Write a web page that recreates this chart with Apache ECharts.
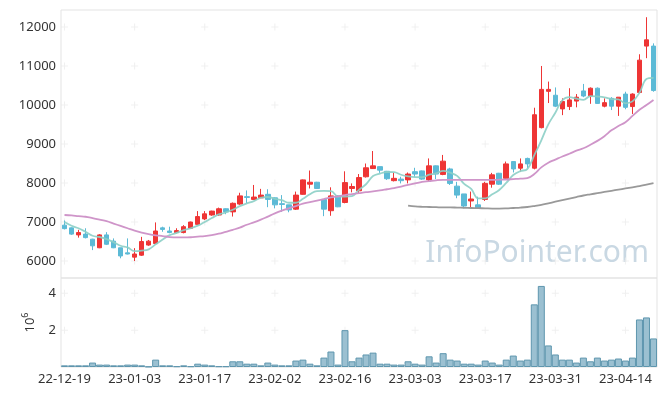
<!DOCTYPE html>
<html><head><meta charset="utf-8">
<script src="https://cdn.jsdelivr.net/npm/echarts@6/dist/echarts.min.js"></script>
<style>html,body{margin:0;padding:0;background:#fff}#c{width:665px;height:396px}</style>
</head><body><div id="c"></div>
<script>
const dates = ['22-12-19','22-12-20','22-12-21','22-12-22','22-12-23','22-12-26','22-12-27','22-12-28','22-12-29','23-01-02',
'23-01-03','23-01-04','23-01-05','23-01-06','23-01-09','23-01-10','23-01-11','23-01-12','23-01-13','23-01-16',
'23-01-17','23-01-18','23-01-19','23-01-20','23-01-25','23-01-26','23-01-27','23-01-30','23-01-31','23-02-01',
'23-02-02','23-02-03','23-02-06','23-02-07','23-02-08','23-02-09','23-02-10','23-02-13','23-02-14','23-02-15',
'23-02-16','23-02-17','23-02-20','23-02-21','23-02-22','23-02-23','23-02-24','23-02-27','23-02-28','23-03-02',
'23-03-03','23-03-06','23-03-07','23-03-08','23-03-09','23-03-10','23-03-13','23-03-14','23-03-15','23-03-16',
'23-03-17','23-03-20','23-03-21','23-03-22','23-03-23','23-03-24','23-03-27','23-03-28','23-03-29','23-03-30',
'23-03-31','23-04-03','23-04-04','23-04-05','23-04-06','23-04-07','23-04-10','23-04-11','23-04-12','23-04-13',
'23-04-14','23-04-17','23-04-18','23-04-19','23-04-20'];

const opens = [6920,6850,6670,6690,6560,6340,6670,6510,6340,6210,
6100,6150,6410,6450,6850,6770,6730,6730,6840,6940,
7080,7180,7180,7340,7260,7460,7650,7580,7620,7710,
7620,7470,7440,7330,7710,7970,8020,7580,7290,7670,
7500,7860,7800,8160,8370,8420,8300,8060,8100,8080,
8290,8310,8080,8440,8220,8360,7920,7720,7540,7440,
7580,7970,8250,8120,8550,8380,8630,8380,9420,10350,
10250,9900,9960,10100,10360,10230,10430,9970,10170,9970,
10280,9960,10320,11510,11510];
const closes = [6830,6690,6730,6600,6390,6670,6430,6340,6130,6180,
6180,6500,6510,6770,6810,6730,6780,6880,7000,7140,
7210,7280,7340,7260,7480,7670,7630,7640,7690,7580,
7440,7450,7310,7690,8080,8020,7860,7330,7670,7390,
8010,7910,8140,8390,8440,8330,8110,8120,8060,8230,
8230,8100,8440,8230,8560,7990,7690,7410,7590,7350,
7990,8210,7970,8490,8360,8490,8490,9750,10400,10400,
9970,10090,10130,10200,10230,10430,10040,10060,9970,10200,
9940,10280,11150,11670,10370];
const lows = [6810,6670,6600,6580,6280,6330,6410,6330,6070,6170,
6000,6130,6390,6440,6750,6710,6710,6710,6820,6920,
7050,7160,7160,7200,7140,7440,7480,7570,7620,7380,
7350,7260,7250,7310,7700,7860,7850,7150,7160,7380,
7480,7760,7720,8140,8360,8260,8080,8040,7990,7990,
8160,8080,8050,8100,8200,7950,7610,7350,7350,7340,
7540,7880,7950,8100,8270,8290,8380,8350,9400,10050,
9950,9740,9870,9940,10200,10030,10030,9940,9870,9720,
9890,9770,10300,11200,10340];
const highs = [7040,6860,6800,6840,6570,6690,6740,6580,6340,6580,
6330,6620,6540,6990,6880,6880,6840,6920,7010,7280,
7280,7290,7370,7350,7500,7750,7810,7950,7850,7840,
7630,7690,7440,7780,8090,8320,8030,7590,7890,7690,
8300,7990,8230,8500,8820,8420,8310,8270,8160,8270,
8390,8320,8630,8450,8720,8390,8030,7720,7780,7650,
8030,8260,8260,8550,8550,8630,8650,9930,11000,10600,
10450,10170,10430,10280,10540,10450,10450,10170,10200,10200,
10340,10300,11300,12250,11580];

const ma5 = [7000,6905,6840,6750,6648,6616,6564,6486,6392,6350,
6252,6266,6300,6428,6554,6664,6720,6794,6840,6906,
7002,7102,7194,7246,7314,7406,7476,7536,7622,7642,
7596,7560,7494,7494,7594,7710,7792,7796,7792,7654,
7652,7662,7824,7968,8178,8242,8282,8278,8212,8170,
8150,8148,8212,8246,8312,8264,8182,7976,7848,7606,
7606,7710,7822,8002,8204,8304,8358,8714,9096,9504,
9800,10122,10202,10162,10132,10228,10218,10198,10152,10142,
10042,10092,10312,10666,10696];
const ma20 = [7180,7170,7150,7135,7100,7060,7020,6960,6900,6840,
6780,6730,6690,6660,6640,6615,6605,6605,6610,6625,
6640,6665,6700,6750,6800,6855,6930,6990,7060,7140,
7220,7290,7350,7410,7470,7510,7550,7590,7630,7660,
7690,7715,7740,7765,7785,7810,7840,7870,7910,7950,
7990,8030,8050,8070,8080,8080,8080,8080,8080,8080,
8080,8080,8085,8090,8100,8110,8125,8230,8400,8520,
8600,8680,8750,8830,8890,8980,9080,9200,9350,9460,
9560,9720,9880,10000,10130];
const ma60 = [null,null,null,null,null,null,null,null,null,null,
null,null,null,null,null,null,null,null,null,null,
null,null,null,null,null,null,null,null,null,null,
null,null,null,null,null,null,null,null,null,null,
null,null,null,null,null,null,null,null,null,7420,
7400,7390,7385,7380,7375,7375,7370,7365,7360,7355,
7350,7345,7345,7350,7360,7370,7385,7410,7440,7480,
7520,7560,7600,7640,7680,7710,7740,7770,7800,7830,
7860,7890,7920,7960,8000];

const volumes = [0.09,0.09,0.09,0.09,0.24,0.13,0.13,0.09,0.09,0.13,
0.13,0.09,0.02,0.40,0.09,0.09,0.04,0.09,0.04,0.18,
0.13,0.09,0.04,0.04,0.31,0.31,0.18,0.18,0.09,0.24,
0.13,0.09,0.09,0.35,0.40,0.18,0.09,0.51,0.84,0.13,
2.00,0.31,0.51,0.68,0.78,0.18,0.18,0.13,0.13,0.31,
0.18,0.13,0.58,0.24,0.75,0.40,0.35,0.18,0.18,0.13,
0.35,0.24,0.13,0.40,0.62,0.35,0.40,3.40,4.40,1.17,
0.68,0.40,0.40,0.24,0.51,0.31,0.51,0.35,0.40,0.46,
0.35,0.51,2.58,2.69,1.55];

const priceTicks = [6000,7000,8000,9000,10000,11000,12000];
const volumeTicks = [2,4];
const labelEvery = 10;

const candles = dates.map((d,i)=>[opens[i],closes[i],lows[i],highs[i]]);
const volData = volumes.map(v=>v*1e6);
const tickCats = dates.filter((d,i)=>i%labelEvery===0);
const priceCross = [];
tickCats.forEach(c=>priceTicks.forEach(t=>priceCross.push([c,t])));
const volCross = [];
tickCats.forEach(c=>volumeTicks.forEach(t=>volCross.push([c,t*1e6])));

const FONT = 'Noto Sans';
const plus = 'path://M3,0h1v3h3v1h-3v3h-1v-3h-3v-1h3z';

const chart = echarts.init(document.getElementById('c'), null, {renderer:'canvas'});
chart.setOption({
  animation:false,
  backgroundColor:'#fff',
  textStyle:{fontFamily:FONT},
  grid:[
    {left:61,right:8,top:10,height:268,show:true,borderColor:'#e3e3e3',borderWidth:1,backgroundColor:'transparent'},
    {left:61,right:8,top:278,height:89,show:true,borderColor:'#e3e3e3',borderWidth:1,backgroundColor:'transparent'}
  ],
  xAxis:[
    {type:'category',gridIndex:0,data:dates,boundaryGap:true,axisLine:{show:false},axisTick:{show:false},axisLabel:{show:false},splitLine:{show:false}},
    {type:'category',gridIndex:1,data:dates,boundaryGap:true,axisLine:{show:false},axisTick:{show:false},
     axisLabel:{interval:labelEvery-1,fontSize:13,color:'#333',fontFamily:FONT,margin:6},splitLine:{show:false}}
  ],
  yAxis:[
    {type:'value',gridIndex:0,min:5565,max:12435,scale:true,axisLine:{show:false},axisTick:{show:false},
     splitLine:{show:false},axisLabel:{fontSize:13,color:'#333',fontFamily:FONT,margin:5,showMinLabel:false,showMaxLabel:false,formatter:v=>String(v)}},
    {type:'value',gridIndex:1,min:0,max:4.83e6,interval:2e6,axisLine:{show:false},axisTick:{show:false},
     splitLine:{show:false},
     axisLabel:{fontSize:13,color:'#333',fontFamily:FONT,margin:5,showMinLabel:false,showMaxLabel:false,formatter:v=>String(v/1e6)},
     name:'{b|10}{s|6}',nameLocation:'middle',nameRotate:90,nameGap:24,
     nameTextStyle:{rich:{b:{fontSize:13,color:'#333',fontFamily:FONT,verticalAlign:'bottom',lineHeight:16},s:{fontSize:9,color:'#333',fontFamily:FONT,verticalAlign:'top',lineHeight:16}}}}
  ],
  graphic:[{type:'text',right:16,top:238,z:0,silent:true,
    style:{text:'InfoPointer.com',fontSize:30,fontFamily:FONT,fill:'#c9d8e3'}}],
  series:[
    {type:'scatter',xAxisIndex:0,yAxisIndex:0,data:priceCross,symbol:plus,symbolSize:7,silent:true,z:1,
     itemStyle:{color:'#ececec'}},
    {type:'scatter',xAxisIndex:1,yAxisIndex:1,data:volCross,symbol:plus,symbolSize:7,silent:true,z:1,
     itemStyle:{color:'#ececec'}},
    {type:'candlestick',xAxisIndex:0,yAxisIndex:0,data:candles,barWidth:5,z:3,
     itemStyle:{color:'#ee3535',color0:'#5cbad6',borderColor:'#ee3535',borderColor0:'#5cbad6',borderWidth:1}},
    {type:'line',xAxisIndex:0,yAxisIndex:0,data:ma5,showSymbol:false,smooth:0.4,z:4,
     lineStyle:{color:'#8ccfc7',width:1.8,opacity:0.9}},
    {type:'line',xAxisIndex:0,yAxisIndex:0,data:ma20,showSymbol:false,smooth:0.4,z:4,
     lineStyle:{color:'#cf95c9',width:1.8}},
    {type:'line',xAxisIndex:0,yAxisIndex:0,data:ma60,showSymbol:false,smooth:0.4,z:4,connectNulls:false,
     lineStyle:{color:'#999999',width:1.8}},
    {type:'bar',xAxisIndex:1,yAxisIndex:1,data:volData,barWidth:'100%',z:3,
     itemStyle:{color:'#9bc0d1',borderColor:'#5e96ae',borderWidth:1}}
  ]
});
</script>
</body></html>
